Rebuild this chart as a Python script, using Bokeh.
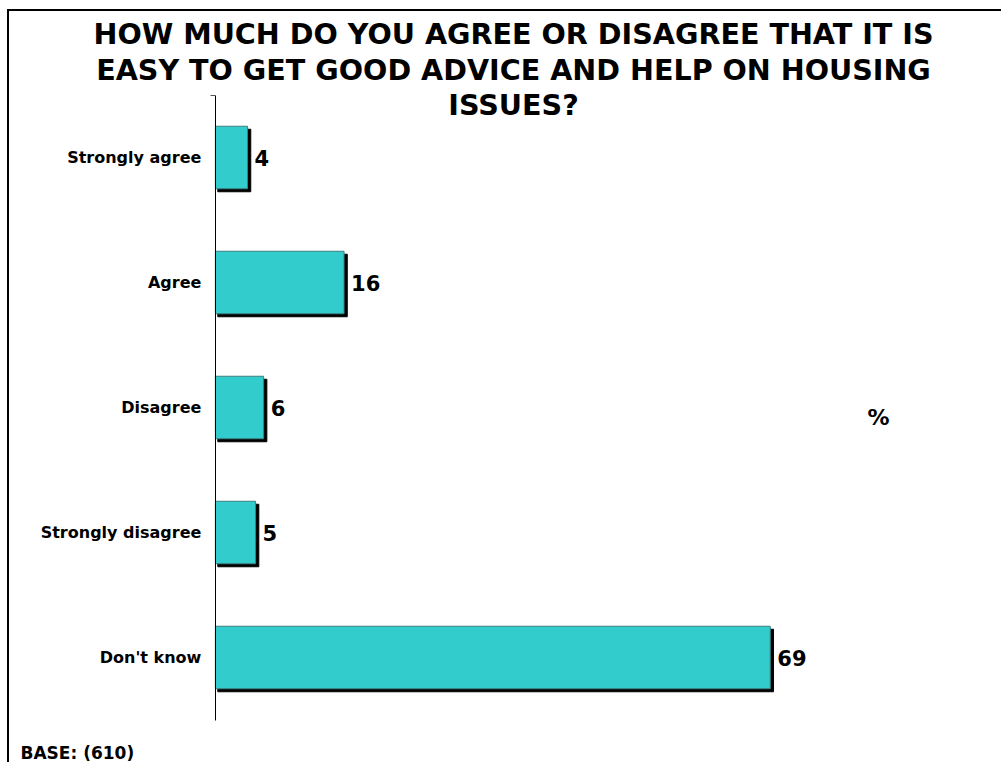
from bokeh.plotting import figure
from bokeh.models import ColumnDataSource, Range1d, Label, FixedTicker
from bokeh.transform import dodge
from bokeh.core.properties import value
from bokeh.embed import file_html
from bokeh.resources import INLINE

categories = ["Strongly agree", "Agree", "Disagree", "Strongly disagree", "Don't know"]
values = [4, 16, 6, 5, 69]
title_lines = ["HOW MUCH DO YOU AGREE OR DISAGREE THAT IT IS",
               "EASY TO GET GOOD ADVICE AND HELP ON HOUSING",
               "ISSUES?"]
base_text = "BASE: (610)"
unit_text = "%"

FONT = "DejaVu Sans"

pos = list(range(len(categories)))  # category slots, top to bottom
src = ColumnDataSource(dict(pos=pos, val=values, lab=[str(v) for v in values]))

p = figure(width=994, height=753, output_backend="svg", toolbar_location=None,
           x_range=Range1d(-25.6, 98), y_range=Range1d(4.856, -1.168),
           min_border=0,
           styles={"border-left": "2px solid black", "border-top": "2px solid black",
                   "margin-top": "9px", "margin-left": "7px"})
p.outline_line_color = None
p.xgrid.visible = False
p.ygrid.visible = False
p.xaxis.visible = False

ya = p.yaxis[0]
ya.fixed_location = 0
ya.ticker = FixedTicker(ticks=pos, minor_ticks=[-0.5])
ya.major_label_overrides = {i: c for i, c in zip(pos, categories)}
ya.bounds = (-0.5, len(categories) - 0.5)
ya.axis_line_color = "black"
ya.axis_line_width = 1
ya.major_tick_line_color = None
ya.minor_tick_line_color = "#555555"
ya.minor_tick_out = 5
ya.minor_tick_in = 0
ya.major_label_text_font = FONT
ya.major_label_text_font_style = "bold"
ya.major_label_text_font_size = "16px"
ya.major_label_text_color = "black"
ya.major_label_standoff = 8

# shadow
p.hbar(y=dodge("pos", 0.024), left=0.3, right=dodge("val", 0.4), height=0.5,
       source=src, fill_color="black", line_color="black")
# bars
p.hbar(y="pos", left=0, right="val", height=0.5, source=src,
       fill_color="#33CCCC", line_color="#3F7F7F", line_width=1)
# value labels
p.text(x="val", y="pos", text="lab", source=src, x_offset=7,
       text_baseline="middle", text_align="left",
       text_font=value(FONT), text_font_style="bold", text_font_size="21px",
       text_color="black")

# title lines (screen units, frame fills the canvas)
title_y = [731, 695, 660]
for line, ty in zip(title_lines, title_y):
    p.add_layout(Label(x=504, y=ty, x_units="screen", y_units="screen", text=line,
                       text_align="center", text_baseline="middle",
                       text_font=FONT, text_font_style="bold", text_font_size="28.6px",
                       text_color="black"))

p.add_layout(Label(x=869, y=347, x_units="screen", y_units="screen", text=unit_text,
                   text_align="center", text_baseline="middle",
                   text_font=FONT, text_font_style="bold", text_font_size="22px",
                   text_color="black"))
p.add_layout(Label(x=11, y=12, x_units="screen", y_units="screen", text=base_text,
                   text_align="left", text_baseline="middle",
                   text_font=FONT, text_font_style="bold", text_font_size="17px",
                   text_color="black"))

open("out.html", "w").write(file_html(p, INLINE))
